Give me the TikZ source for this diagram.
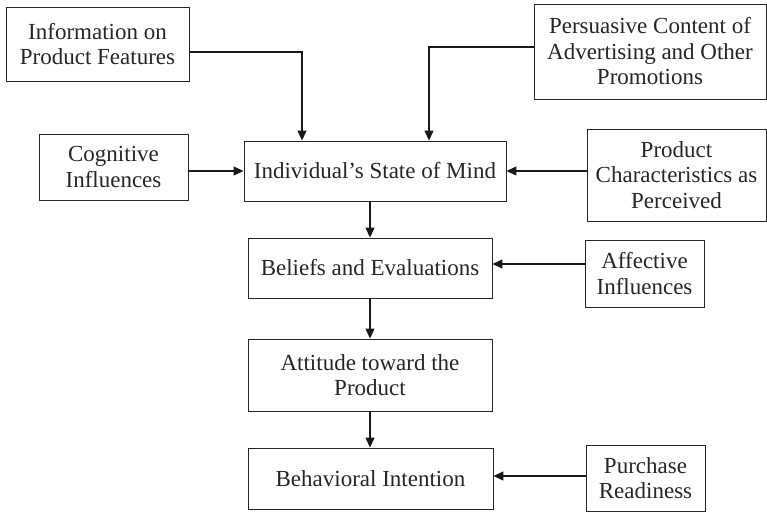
\documentclass[tikz,border=0pt]{standalone}
\usepackage{fontspec}
\setmainfont{Liberation Serif}
\usetikzlibrary{arrows.meta}
\begin{document}
\begin{tikzpicture}[x=1pt,y=-1pt,
  box/.style={draw=black!85, line width=0.9pt, inner sep=0pt, align=center,
    font=\fontsize{23}{25.5}\selectfont, text=black!85},
  flow/.style={line width=1.2pt, draw=black!90,
    -{Triangle[length=10pt,width=9pt]}}]
\useasboundingbox (0,0) rectangle (767,512);
% boxes
\node[box, minimum width=183pt, minimum height=74pt] (info) at (97.5,44) {Information on\\Product Features};
\node[box, minimum width=232pt, minimum height=95pt] (pers) at (650,51.5) {Persuasive Content of\\Advertising and Other\\Promotions};
\node[box, minimum width=149pt, minimum height=66pt] (cog) at (113.5,167) {Cognitive\\Influences};
\node[box, minimum width=262pt, minimum height=60pt] (state) at (375,171) {Individual’s State of Mind};
\node[box, minimum width=179pt, minimum height=92pt] (prod) at (676.5,175) {Product\\Characteristics as\\Perceived};
\node[box, minimum width=244pt, minimum height=60pt] (beliefs) at (370,268) {Beliefs and Evaluations};
\node[box, minimum width=119pt, minimum height=67pt] (aff) at (644.5,273.5) {Affective\\Influences};
\node[box, minimum width=244pt, minimum height=72pt] (att) at (370,375) {Attitude toward the\\Product};
\node[box, minimum width=245pt, minimum height=61pt] (beh) at (370.5,478.5) {Behavioral Intention};
\node[box, minimum width=119pt, minimum height=66pt] (pur) at (645.5,478) {Purchase\\Readiness};
% connectors
\coordinate (infoOut) at (info.east |- 0,52);
\coordinate (persOut) at (pers.west |- 0,47);
\draw[flow] (infoOut) -| (302,0 |- state.north);
\draw[flow] (persOut) -| (429,0 |- state.north);
\draw[flow] (cog.east |- state.west) -- (state.west);
\draw[flow] (prod.west |- state.east) -- (state.east);
\draw[flow] (beliefs.north |- state.south) -- (beliefs.north);
\draw[flow] (aff.west |- 0,264) -- (beliefs.east |- 0,264);
\draw[flow] (beliefs.south) -- (att.north);
\draw[flow] (att.south) -- (beh.north -| att.south);
\draw[flow] (pur.west |- 0,476) -- (beh.east |- 0,476);
\end{tikzpicture}
\end{document}
